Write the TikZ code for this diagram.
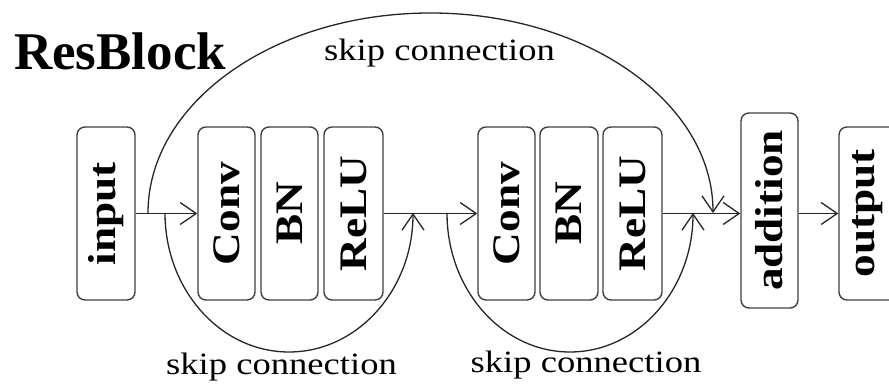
\documentclass[tikz,border=0pt]{standalone}
\usepackage{fontspec}
\setmainfont{Liberation Serif}
\usetikzlibrary{arrows.meta}
\newcommand\vlabel[1]{\rotatebox{90}{\scalebox{1.16}[1]{#1}}}
\newcommand\wlabel[1]{\scalebox{1.18}[1]{#1}}
\begin{document}
\begin{tikzpicture}[x=1pt,y=1pt,
  blk/.style={draw=black!75, line width=1.4pt, rounded corners=8pt,
    minimum width=58pt, minimum height=173pt, inner sep=0pt,
    font=\fontsize{39}{39}\selectfont\bfseries},
  conn/.style={draw=black!85, line width=1.3pt},
  arr/.style={conn, -{Straight Barb[length=16pt,width=22pt]}},
  lbl/.style={font=\fontsize{31}{31}\selectfont, inner sep=0pt, anchor=base},
  title/.style={font=\fontsize{53}{53}\selectfont\bfseries, inner sep=0pt, anchor=base}]
\clip (0,0) rectangle (889,385);
\fill[white] (0,0) rectangle (889,385);

\node[blk] (in) at (106,171.5) {\vlabel{input}};
\node[blk, minimum width=57pt] (c1) at (226.5,171.5) {\vlabel{Conv}};
\node[blk, minimum width=57pt] (b1) at (289.5,171.5) {\vlabel{BN}};
\node[blk, minimum width=59pt] (r1) at (353.5,171.5) {\vlabel{ReLU}};
\node[blk, minimum width=57pt] (c2) at (506.5,171.5) {\vlabel{Conv}};
\node[blk] (b2) at (569,171.5) {\vlabel{BN}};
\node[blk, minimum width=59pt] (r2) at (632.5,171.5) {\vlabel{ReLU}};
\node[blk, minimum width=57pt, minimum height=195pt] (add) at (769.5,174.5) {\vlabel{addition}};
\node[blk] (out) at (868,171.5) {\vlabel{output}};

\draw[arr] (in.east) -- (c1.west);
\draw[arr] (r1.east) -- (c2.west);
\draw[arr] (r2.east) -- (r2.east -| add.west);
\draw[arr] (add.east |- out.west) -- (out.west);

\coordinate (ts) at (148,172);
\coordinate (bs1) at (165,172);
\coordinate (bs2) at (447,172);
\draw[arr] (ts) arc[start angle=180, end angle=0, x radius=282.5, y radius=200];
\draw[arr] (bs1) arc[start angle=180, end angle=360, x radius=124, y radius=139];
\draw[arr] (bs2) arc[start angle=180, end angle=360, x radius=123, y radius=139];

\node[title] (tt) at (120,315) {ResBlock};
\node[lbl] (l1) at (439.5,324) {\wlabel{skip connection}};
\node[lbl] (l2) at (281.5,10) {\wlabel{skip connection}};
\node[lbl] (l3) at (586,12) {\wlabel{skip connection}};
\end{tikzpicture}
\end{document}
